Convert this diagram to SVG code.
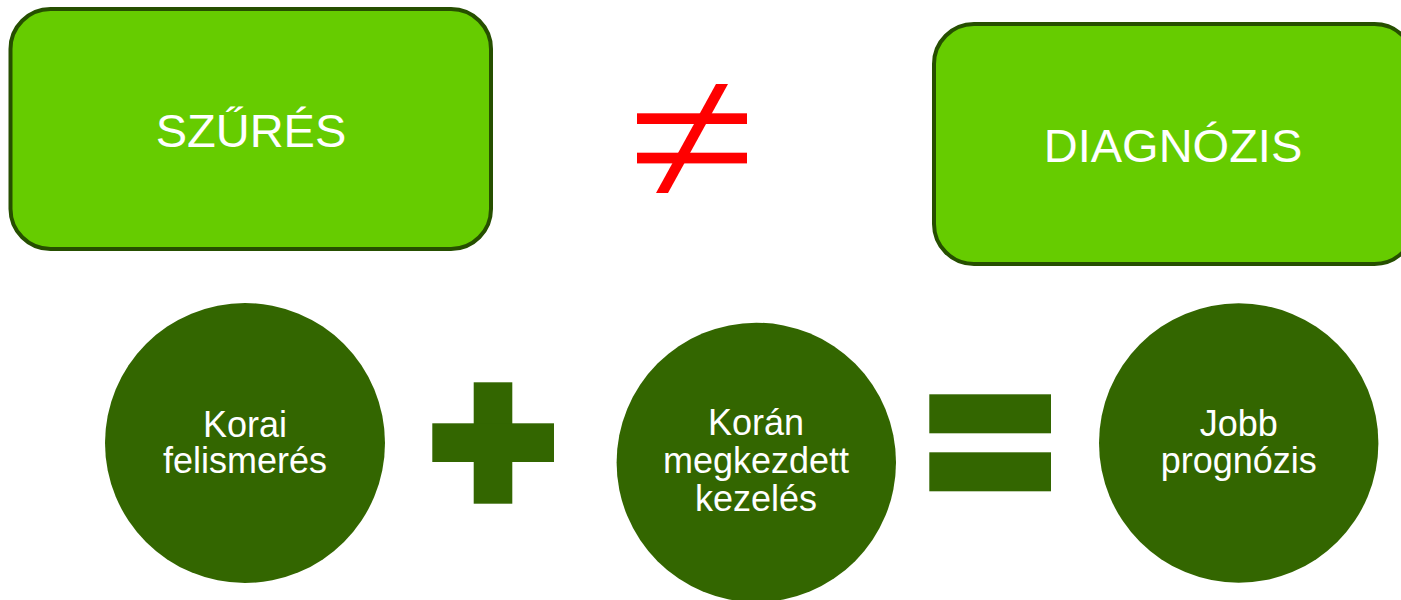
<svg xmlns="http://www.w3.org/2000/svg" width="1401" height="600" viewBox="0 0 1401 600">
  <style>
    .box { fill: #66CC00; stroke: #264F00; stroke-width: 4; }
    .circle { fill: #336600; }
    .sym { fill: #336600; }
    .neq { fill: #FF0000; }
    .boxlabel { font-family: "Liberation Sans", Arial, sans-serif; font-size: 47px; fill: #FFFFFF; text-anchor: middle; }
    .label { font-family: "Liberation Sans", Arial, sans-serif; font-size: 36px; fill: #FFFFFF; text-anchor: middle; }
  </style>
  <rect width="1401" height="600" fill="#FFFFFF"/>

  <!-- Top row: screening is not diagnosis -->
  <g id="szures">
    <rect class="box" x="10.5" y="9" width="480.5" height="240" rx="40" ry="40"/>
    <text class="boxlabel" x="251" y="147">SZŰRÉS</text>
  </g>

  <g id="not-equal">
    <rect class="neq" x="637" y="113.3" width="110" height="10.7"/>
    <rect class="neq" x="637" y="152.7" width="110" height="10.7"/>
    <polygon class="neq" points="716,84 728,84 668,193 656,193"/>
  </g>

  <g id="diagnozis">
    <rect class="box" x="934" y="24" width="480.5" height="240" rx="40" ry="40"/>
    <text class="boxlabel" x="1173" y="162">DIAGNÓZIS</text>
  </g>

  <!-- Bottom row: early detection + early treatment = better prognosis -->
  <g id="korai-felismeres">
    <circle class="circle" cx="245" cy="443" r="140"/>
    <text class="label" x="245" y="436.7">Korai</text>
    <text class="label" x="245" y="473.3">felismerés</text>
  </g>

  <g id="plus">
    <rect class="sym" x="473.7" y="382.3" width="38.6" height="121.4"/>
    <rect class="sym" x="432.3" y="423.3" width="121.7" height="38.7"/>
  </g>

  <g id="koran-megkezdett-kezeles">
    <circle class="circle" cx="756.3" cy="462.4" r="139.7"/>
    <text class="label" x="756" y="435">Korán</text>
    <text class="label" x="756" y="473">megkezdett</text>
    <text class="label" x="756" y="511">kezelés</text>
  </g>

  <g id="equals">
    <rect class="sym" x="929.3" y="394.3" width="121.7" height="39"/>
    <rect class="sym" x="929.3" y="452.3" width="121.7" height="39"/>
  </g>

  <g id="jobb-prognozis">
    <circle class="circle" cx="1238.7" cy="443" r="139.7"/>
    <text class="label" x="1238.7" y="435.7">Jobb</text>
    <text class="label" x="1238.7" y="473.3">prognózis</text>
  </g>

  <g id="connectors"></g>
</svg>
